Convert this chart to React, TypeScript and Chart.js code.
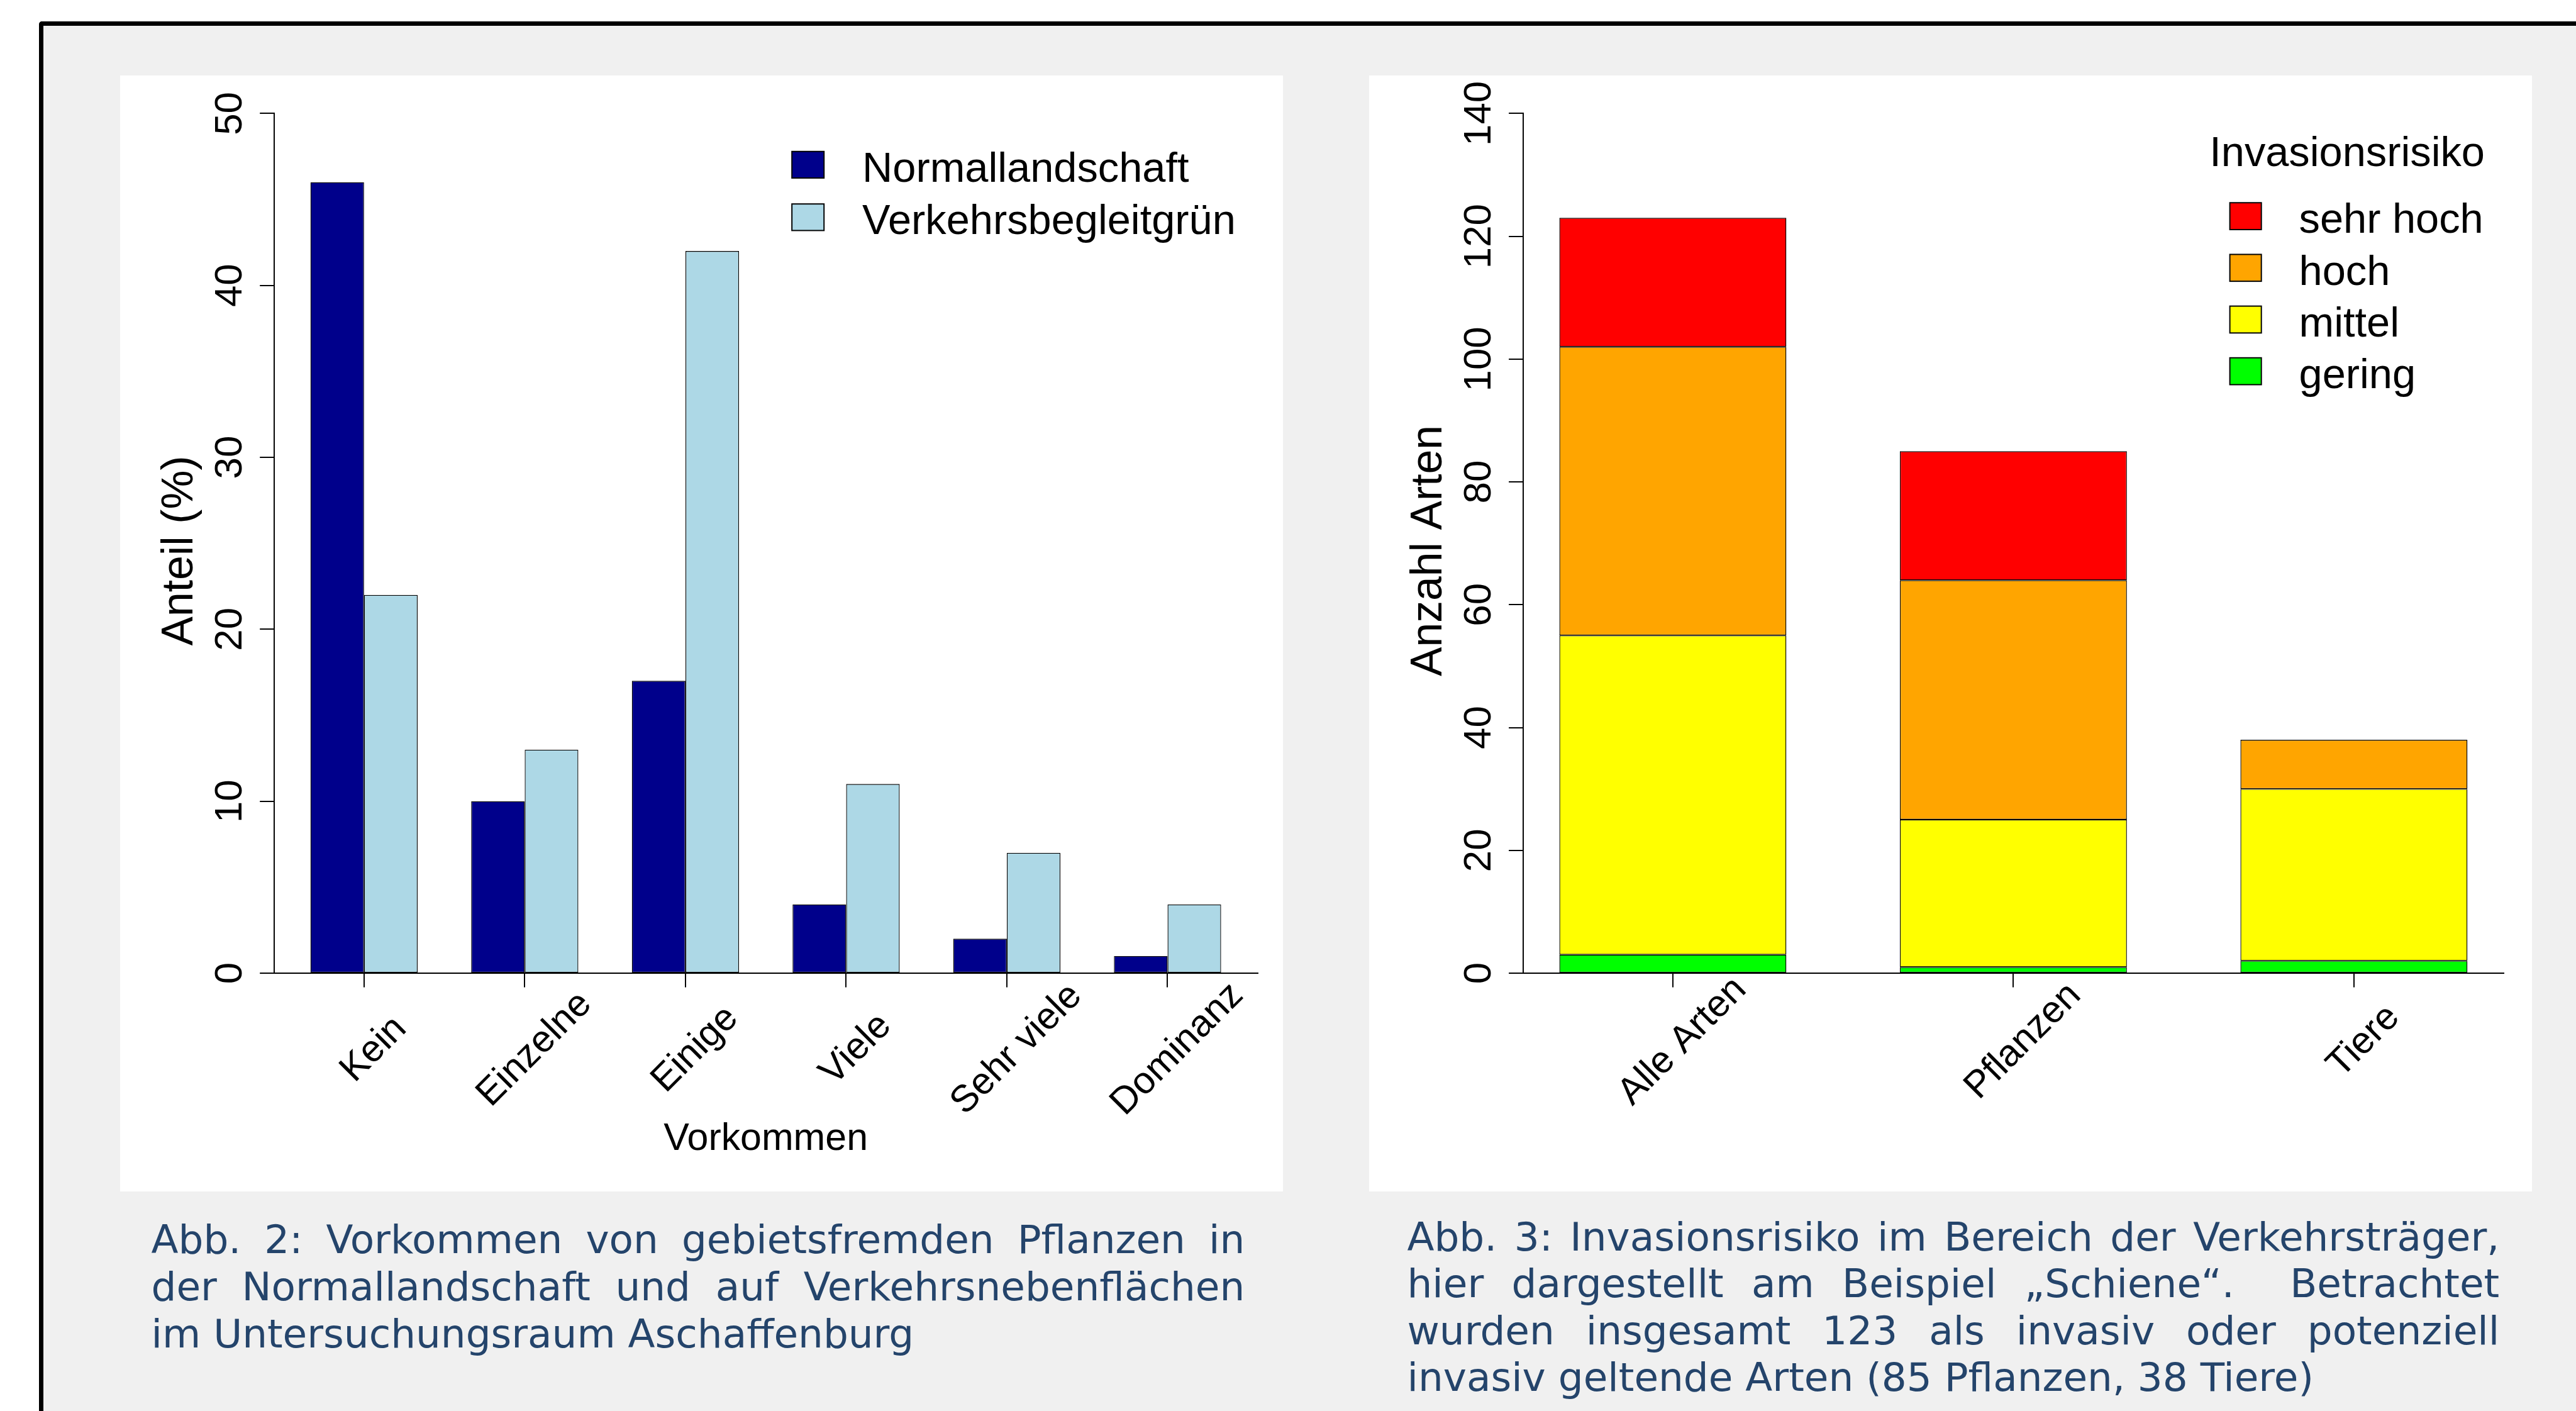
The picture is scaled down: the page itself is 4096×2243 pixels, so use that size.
import React, { useEffect, useRef } from 'react';
import { Chart, registerables } from 'chart.js';

Chart.register(...registerables);

const K = 4096 / 4172;
const FONT = '"Liberation Sans", Arial, Helvetica, sans-serif';
Chart.defaults.font.family = FONT;

// ---------- Abb. 2 ----------
const vorkommenKategorien = ['Kein', 'Einzelne', 'Einige', 'Viele', 'Sehr viele', 'Dominanz'];
const normallandschaft = [46, 10, 17, 4, 2, 1];
const verkehrsbegleitgruen = [22, 13, 42, 11, 7, 4];
const anteilTicks = [0, 10, 20, 30, 40, 50];

// ---------- Abb. 3 ----------
const artenKategorien = ['Alle Arten', 'Pflanzen', 'Tiere'];
const risikoGering = [3, 1, 2];
const risikoMittel = [52, 24, 28];
const risikoHoch = [47, 39, 8];
const risikoSehrHoch = [21, 21, 0];
const anzahlTicks = [0, 20, 40, 60, 80, 100, 120, 140];

const caption1 = [
  'Abb. 2: Vorkommen von gebietsfremden Pflanzen in',
  'der Normallandschaft und auf Verkehrsnebenflächen',
  'im Untersuchungsraum Aschaffenburg',
];
const caption2 = [
  'Abb. 3: Invasionsrisiko im Bereich der Verkehrsträger,',
  'hier dargestellt am Beispiel \u201ESchiene\u201C.\u00A0 Betrachtet',
  'wurden insgesamt 123 als invasiv oder potenziell',
  'invasiv geltende Arten (85 Pflanzen, 38 Tiere)',
];

const CAPTION_COLOR = '#24446b';

// panel geometry (reference pixels)
const PANEL_W = 1883;
const PANEL_H = 1807;
const PANEL_Y = 122;
const LEFT_PANEL_X = 195;
const RIGHT_PANEL_X = 2217;

const CW = Math.round(PANEL_W * K);
const CH = Math.round(PANEL_H * K);

function measureWidest(labels: string[], size: number) {
  const c = document.createElement('canvas').getContext('2d')!;
  c.font = `${size}px ${FONT}`;
  return Math.max(...labels.map((l) => c.measureText(l).width));
}

type LegendCfg = {
  title?: string;
  titleX?: number;
  titleBase?: number;
  boxX: number;
  boxW: number;
  boxH: number;
  firstBoxTop: number;
  pitch: number;
  textX: number;
  firstBase: number;
  order: number[];
};

type DecorCfg = {
  categories: string[];
  catLabelY: number;
  yTitle: string;
  yTitleX: number;
  yTitleY: number;
  xTitle?: string;
  xTitleY?: number;
  legend: LegendCfg;
};

function decorPlugin(cfg: DecorCfg) {
  return {
    id: 'rDecor',
    afterDraw(chart: any) {
      const ctx = chart.ctx as CanvasRenderingContext2D;
      const xs = chart.scales.x;
      const area = chart.chartArea;
      ctx.save();
      ctx.fillStyle = '#000';

      // rotated category labels (centred, 45°)
      ctx.font = `${61 * K}px ${FONT}`;
      ctx.textAlign = 'center';
      ctx.textBaseline = 'middle';
      xs.ticks.forEach((t: any, i: number) => {
        const px = xs.getPixelForValue(t.value);
        ctx.save();
        ctx.translate(px + 16 * K, cfg.catLabelY * K);
        ctx.rotate(-Math.PI / 4);
        ctx.fillText(cfg.categories[i], 0, 0);
        ctx.restore();
      });

      // y axis title
      ctx.font = `${71 * K}px ${FONT}`;
      ctx.textBaseline = 'alphabetic';
      ctx.textAlign = 'center';
      ctx.save();
      ctx.translate(cfg.yTitleX * K, cfg.yTitleY * K);
      ctx.rotate(-Math.PI / 2);
      ctx.fillText(cfg.yTitle, 0, 0);
      ctx.restore();

      // x axis title
      if (cfg.xTitle) {
        ctx.font = `${62 * K}px ${FONT}`;
        ctx.fillText(cfg.xTitle, (area.left + area.right) / 2, (cfg.xTitleY as number) * K);
      }

      // legend
      const lg = cfg.legend;
      ctx.font = `${68 * K}px ${FONT}`;
      ctx.textAlign = 'left';
      ctx.textBaseline = 'alphabetic';
      if (lg.title) {
        ctx.fillStyle = '#000';
        ctx.fillText(lg.title, (lg.titleX as number) * K, (lg.titleBase as number) * K);
      }
      lg.order.forEach((dsIndex, row) => {
        const ds = chart.data.datasets[dsIndex];
        const top = (lg.firstBoxTop + row * lg.pitch) * K;
        ctx.fillStyle = ds.backgroundColor;
        ctx.fillRect(lg.boxX * K, top, lg.boxW * K, lg.boxH * K);
        ctx.strokeStyle = '#000';
        ctx.lineWidth = 2 * K;
        ctx.strokeRect(lg.boxX * K, top, lg.boxW * K, lg.boxH * K);
        ctx.fillStyle = '#000';
        ctx.fillText(ds.label, lg.textX * K, (lg.firstBase + row * lg.pitch) * K);
      });
      ctx.restore();
    },
  };
}

function axisStyle(tickLen: number) {
  return {
    grid: {
      display: true,
      offset: false,
      drawOnChartArea: false,
      drawTicks: true,
      tickLength: tickLen * K,
      color: '#000',
      lineWidth: 2 * K,
    },
    border: { display: true, color: '#000', width: 2 * K },
  };
}

function barStyle(color: string) {
  return {
    backgroundColor: color,
    borderColor: '#000',
    borderWidth: 1.4 * K,
    borderSkipped: false as const,
    categoryPercentage: 2 / 3,
    barPercentage: 1,
  };
}

function leftConfig(W: number, H: number) {
  const area = { left: 249.3 * K, right: 1842.1 * K, top: 61.5 * K, bottom: 1453.5 * K };
  const centers = vorkommenKategorien.map((_, i) => 2 + 3 * i);
  const yFont = 63 * K;
  const widest = measureWidest(anteilTicks.map(String), yFont);
  return {
    type: 'bar',
    data: {
      datasets: [
        { label: 'Normallandschaft', data: normallandschaft.map((v, i) => ({ x: centers[i], y: v })), ...barStyle('#00008B') },
        { label: 'Verkehrsbegleitgrün', data: verkehrsbegleitgruen.map((v, i) => ({ x: centers[i], y: v })), ...barStyle('#ADD8E6') },
      ],
    },
    options: {
      responsive: false,
      animation: false,
      devicePixelRatio: 1,
      layout: { autoPadding: false, padding: { left: 0, top: area.top, right: W - area.right, bottom: 0 } },
      plugins: { legend: { display: false }, tooltip: { enabled: false } },
      scales: {
        x: {
          type: 'linear',
          min: 0.32,
          max: 18.68,
          offset: false,
          ...axisStyle(23),
          ticks: { display: false },
          afterBuildTicks: (s: any) => {
            s.ticks = centers.map((v) => ({ value: v }));
          },
          afterFit: (s: any) => {
            s.height = H - area.bottom;
          },
        },
        y: {
          type: 'linear',
          min: 0,
          max: 50,
          ...axisStyle(23),
          ticks: {
            font: { size: yFont, family: FONT },
            color: '#000',
            minRotation: 90,
            maxRotation: 90,
            crossAlign: 'center',
            autoSkip: false,
            padding: area.left - 23 * K - widest / 2 - 179.5 * K,
          },
          afterBuildTicks: (s: any) => {
            s.ticks = anteilTicks.map((v) => ({ value: v }));
          },
          afterFit: (s: any) => {
            s.width = area.left;
          },
        },
      },
    },
    plugins: [
      decorPlugin({
        categories: vorkommenKategorien,
        catLabelY: 1577,
        yTitle: 'Anteil (%)',
        yTitleX: 117.6,
        yTitleY: 769.5,
        xTitle: 'Vorkommen',
        xTitleY: 1740,
        legend: {
          boxX: 1088,
          boxW: 52,
          boxH: 43,
          firstBoxTop: 123,
          pitch: 85,
          textX: 1202,
          firstBase: 172,
          order: [0, 1],
        },
      }),
    ],
  };
}

function rightConfig(W: number, H: number) {
  const area = { left: 249.2 * K, right: 1837.6 * K, top: 61.5 * K, bottom: 1453.5 * K };
  const centers = artenKategorien.map((_, i) => 1 + 1.5 * i);
  const yFont = 63 * K;
  const widest = measureWidest(anzahlTicks.map(String), yFont);
  const mk = (label: string, vals: number[], color: string) => ({
    label,
    data: vals.map((v, i) => ({ x: centers[i], y: v })),
    ...barStyle(color),
  });
  return {
    type: 'bar',
    data: {
      datasets: [
        mk('gering', risikoGering, '#00FF00'),
        mk('mittel', risikoMittel, '#FFFF00'),
        mk('hoch', risikoHoch, '#FFA500'),
        mk('sehr hoch', risikoSehrHoch, '#FF0000'),
      ],
    },
    options: {
      responsive: false,
      animation: false,
      devicePixelRatio: 1,
      layout: { autoPadding: false, padding: { left: 0, top: area.top, right: W - area.right, bottom: 0 } },
      plugins: { legend: { display: false }, tooltip: { enabled: false } },
      scales: {
        x: {
          type: 'linear',
          min: 0.34,
          max: 4.66,
          offset: false,
          stacked: true,
          ...axisStyle(23),
          ticks: { display: false },
          afterBuildTicks: (s: any) => {
            s.ticks = centers.map((v) => ({ value: v }));
          },
          afterFit: (s: any) => {
            s.height = H - area.bottom;
          },
        },
        y: {
          type: 'linear',
          min: 0,
          max: 140,
          stacked: true,
          ...axisStyle(23),
          ticks: {
            font: { size: yFont, family: FONT },
            color: '#000',
            minRotation: 90,
            maxRotation: 90,
            crossAlign: 'center',
            autoSkip: false,
            padding: area.left - 23 * K - widest / 2 - 179.5 * K,
          },
          afterBuildTicks: (s: any) => {
            s.ticks = anzahlTicks.map((v) => ({ value: v }));
          },
          afterFit: (s: any) => {
            s.width = area.left;
          },
        },
      },
    },
    plugins: [
      decorPlugin({
        categories: artenKategorien,
        catLabelY: 1564,
        yTitle: 'Anzahl Arten',
        yTitleX: 117,
        yTitleY: 769.5,
        legend: {
          title: 'Invasionsrisiko',
          titleX: 1361,
          titleBase: 147,
          boxX: 1394,
          boxW: 51,
          boxH: 43.5,
          firstBoxTop: 206,
          pitch: 83.7,
          textX: 1506,
          firstBase: 255,
          order: [3, 2, 1, 0],
        },
      }),
    ],
  };
}

function ChartCanvas({ makeConfig }: { makeConfig: (w: number, h: number) => any }) {
  const ref = useRef<HTMLCanvasElement>(null);
  useEffect(() => {
    const chart = new Chart(ref.current as HTMLCanvasElement, makeConfig(CW, CH));
    return () => chart.destroy();
  }, []);
  return <canvas ref={ref} width={CW} height={CH} style={{ display: 'block', width: CW, height: CH }} />;
}

function Panel({ x, children }: { x: number; children: React.ReactNode }) {
  return (
    <div
      style={{
        position: 'absolute',
        left: Math.round(x * K),
        top: Math.round(PANEL_Y * K),
        width: CW,
        height: CH,
        background: '#ffffff',
      }}
    >
      {children}
    </div>
  );
}

function Caption({ x, top, width, lines }: { x: number; top: number; width: number; lines: string[] }) {
  return (
    <div
      style={{
        position: 'absolute',
        left: x * K,
        top: top * K,
        width: width * K,
        fontFamily: '"DejaVu Sans", Verdana, sans-serif',
        fontSize: `${64 * K}px`,
        lineHeight: `${76 * K}px`,
        color: CAPTION_COLOR,
      }}
    >
      {lines.map((line, i) => {
        const last = i === lines.length - 1;
        return (
          <div
            key={i}
            style={{
              whiteSpace: 'nowrap',
              textAlign: last ? 'left' : 'justify',
              textAlignLast: last ? 'left' : 'justify',
            } as React.CSSProperties}
          >
            {line}
          </div>
        );
      })}
    </div>
  );
}

export default function App() {
  return (
    <div
      style={{
        position: 'absolute',
        left: 0,
        top: 0,
        width: 4096,
        height: 2243,
        overflow: 'hidden',
        background: '#ffffff',
      }}
    >
      <div
        style={{
          position: 'absolute',
          left: 63 * K,
          top: 35 * K,
          width: 4300 * K,
          height: 2400 * K,
          boxSizing: 'border-box',
          borderLeft: `${8 * K}px solid #000`,
          borderTop: `${8 * K}px solid #000`,
          borderTopLeftRadius: 5 * K,
          background: '#f0f0f0',
        }}
      />
      <Panel x={LEFT_PANEL_X}>
        <ChartCanvas makeConfig={leftConfig} />
      </Panel>
      <Panel x={RIGHT_PANEL_X}>
        <ChartCanvas makeConfig={rightConfig} />
      </Panel>
      <Caption x={245} top={1970.3} width={1771} lines={caption1} />
      <Caption x={2279} top={1965.4} width={1769} lines={caption2} />
    </div>
  );
}
